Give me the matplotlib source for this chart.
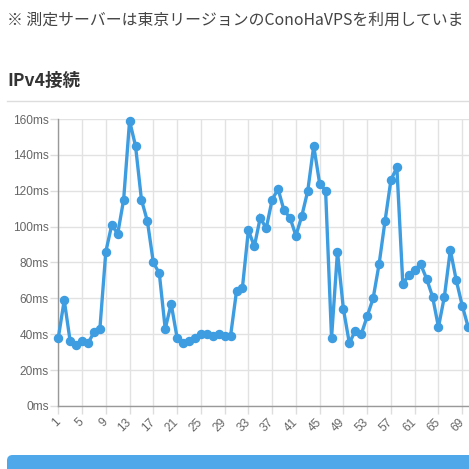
import matplotlib
matplotlib.use("Agg")
import matplotlib.pyplot as plt
from matplotlib.patches import FancyBboxPatch

# ---- data ----
x_labels = [str(i) for i in range(1, 71)]
latency_ms = [38, 59, 36, 34, 36, 35, 41, 43, 86, 101,
              96, 115, 159, 145, 115, 103, 80, 74, 43, 57,
              38, 35, 36, 38, 40, 40, 39, 40, 39, 39,
              64, 66, 98, 89, 105, 99, 115, 121, 109, 105,
              95, 106, 120, 145, 124, 120, 38, 86, 54, 35,
              42, 40, 50, 60, 79, 103, 126, 133, 68, 73,
              76, 79, 71, 61, 44, 61, 87, 70, 56, 44]
y_ticks = [0, 20, 40, 60, 80, 100, 120, 140, 160]
note_text = "※ 測定サーバーは東京リージョンのConoHaVPSを利用していま"
title_text = "IPv4接続"

W = H = 469
fig = plt.figure(figsize=(W / 100, H / 100), dpi=100)
fig.patch.set_facecolor("white")

def fx(px):
    return px / W

def fy(py):
    return 1 - py / H

jp = ["Noto Sans CJK JP", "DejaVu Sans"]

fig.text(fx(7), fy(20), note_text, fontsize=11.4, color="#444444",
         family=jp, ha="left", va="center")
fig.text(fx(7), fy(81), title_text, fontsize=12.6, color="#333333",
         family=jp, fontweight="bold", ha="left", va="center")
fig.add_artist(plt.Line2D([fx(7), 1.0], [fy(101), fy(101)],
                          color="#dddddd", lw=1.0, transform=fig.transFigure))

# axes geometry (x=1 at 58.3px, 5.94px per step; 0ms at 406px, 160ms at 119px)
left_px, step = 58.3, 5.94
x_max = 73
ax_w = (x_max - 1) * step
ax = fig.add_axes([fx(left_px), fy(406), ax_w / W, (406 - 119) / H])

xs = list(range(1, len(latency_ms) + 1))
line_col = "#3d9de0"
ax.plot(xs, latency_ms, color=line_col, lw=2.4, marker="o", markersize=5.8,
        markerfacecolor=line_col, markeredgecolor=line_col,
        solid_joinstyle="miter", clip_on=False, zorder=3)

ax.set_xlim(1, x_max)
ax.set_ylim(0, 160)
ax.set_yticks(y_ticks)
ax.set_yticklabels([f"{v}ms" for v in y_ticks])
tick_pos = list(range(1, len(x_labels) + 1, 4))
ax.set_xticks(tick_pos)
ax.set_xticklabels([x_labels[p - 1] for p in tick_pos])

for lbl in ax.get_xticklabels():
    lbl.set_rotation(45)
    lbl.set_ha("right")
    lbl.set_va("center")
    lbl.set_rotation_mode("anchor")

ax.tick_params(axis="both", colors="#dddddd", labelcolor="#666666",
               labelsize=8.6, length=5.5, width=1)
ax.tick_params(axis="y", pad=1.5)
ax.tick_params(axis="x", pad=5)
for lbl in ax.get_xticklabels() + ax.get_yticklabels():
    lbl.set_family(["Liberation Sans", "DejaVu Sans"])

ax.grid(True, color="#e2e2e2", lw=1)
ax.set_axisbelow(True)
for s in ["top", "right"]:
    ax.spines[s].set_visible(False)
for s in ["left", "bottom"]:
    ax.spines[s].set_color("#999999")
    ax.spines[s].set_linewidth(1)

# bottom blue bar
bar = FancyBboxPatch((fx(7), fy(475)), 1.2, (475 - 455) / H,
                     boxstyle="round,pad=0,rounding_size=0.012",
                     transform=fig.transFigure, facecolor="#4ea8ea",
                     edgecolor="none")
fig.add_artist(bar)

fig.savefig("out.png", dpi=100)
